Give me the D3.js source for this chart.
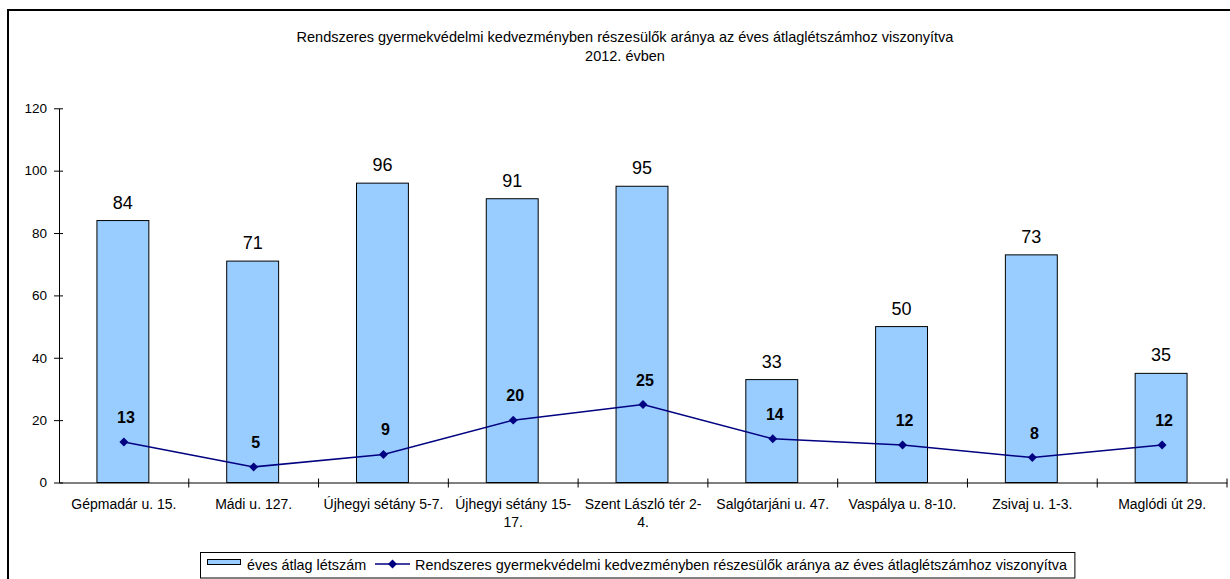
<!DOCTYPE html>
<html>
<head>
<meta charset="utf-8">
<script src="https://cdn.jsdelivr.net/npm/d3@7"></script>
<style>
  html, body { margin: 0; padding: 0; background: #fff; }
  svg { display: block; font-family: Arial, "Liberation Sans", sans-serif; }
</style>
</head>
<body>
<svg id="chart" width="1230" height="579"></svg>
<script>
const categories = ["Gépmadár u. 15.", "Mádi u. 127.", "Újhegyi sétány 5-7.", "Újhegyi sétány 15-17.", "Szent László tér 2-4.", "Salgótarjáni u. 47.", "Vaspálya u. 8-10.", "Zsivaj u. 1-3.", "Maglódi út 29."];
const tickLabels = ["Gépmadár u. 15.", "Mádi u. 127.", "Újhegyi sétány 5-7.", "Újhegyi sétány 15-\n17.", "Szent László tér 2-\n4.", "Salgótarjáni u. 47.", "Vaspálya u. 8-10.", "Zsivaj u. 1-3.", "Maglódi út 29."];
const barValues = [84, 71, 96, 91, 95, 33, 50, 73, 35];
const lineValues = [13, 5, 9, 20, 25, 14, 12, 8, 12];
const yTicks = [0, 20, 40, 60, 80, 100, 120];
const barSeriesName = "éves átlag létszám";
const lineSeriesName = "Rendszeres gyermekvédelmi kedvezményben részesülők aránya az éves átlaglétszámhoz viszonyítva";
const titleLines = ["Rendszeres gyermekvédelmi kedvezményben részesülők aránya az éves átlaglétszámhoz viszonyítva", "2012. évben"];

const svg = d3.select("#chart");

// outer chart border
svg.append("rect").attr("x", 8).attr("y", 10).attr("width", 1260).attr("height", 620)
  .attr("fill", "#fff").attr("stroke", "#000").attr("stroke-width", 2);

const x = d3.scaleBand().domain(categories).range([59, 1227]).padding(0);
const y = d3.scaleLinear().domain([0, 120]).range([482.5, 108.3]);

// title
svg.append("text").attr("x", 625).attr("y", 42).attr("text-anchor", "middle")
  .attr("font-size", 14.5).attr("fill", "#000")
  .selectAll("tspan").data(titleLines).join("tspan")
  .attr("x", 625).attr("dy", (d, i) => i === 0 ? 0 : 19).text(d => d);

// bars
const bw = x.bandwidth() * 0.4;
svg.append("g").selectAll("rect").data(categories).join("rect")
  .attr("x", (d) => x(d) + x.bandwidth() / 2 - bw / 2 - 1)
  .attr("y", (d, i) => y(barValues[i]))
  .attr("width", bw)
  .attr("height", (d, i) => y(0) - y(barValues[i]))
  .attr("fill", "#99CCFF").attr("stroke", "#000").attr("stroke-width", 1);

// bar labels
svg.append("g").selectAll("text").data(categories).join("text")
  .attr("x", (d) => x(d) + x.bandwidth() / 2 - 1)
  .attr("y", (d, i) => y(barValues[i]) - 12)
  .attr("text-anchor", "middle").attr("font-size", 18).attr("fill", "#000")
  .text((d, i) => barValues[i]);

// y axis
const yAxis = d3.axisLeft(y).tickValues(yTicks).tickSize(0).tickPadding(12);
const gy = svg.append("g").attr("transform", "translate(59,0)").call(yAxis);
gy.select(".domain").attr("stroke", "#000");
gy.selectAll(".tick text").attr("font-size", 13.5).attr("fill", "#000").attr("font-family", "Arial, 'Liberation Sans', sans-serif");
gy.selectAll(".tick").append("line").attr("x1", -5).attr("x2", 4).attr("stroke", "#000");

// x axis
const xAxis = d3.axisBottom(x).tickSize(0).tickFormat("");
const gx = svg.append("g").attr("transform", `translate(0,${y(0)})`).call(xAxis);
gx.select(".domain").attr("stroke", "#000");
gx.selectAll(".tick").remove();
const boundaries = categories.map(d => x(d)).concat([x.range()[1]]).slice(1);
gx.selectAll("line.bt").data(boundaries).join("line").attr("class", "bt")
  .attr("x1", d => d).attr("x2", d => d).attr("y1", -4).attr("y2", 5).attr("stroke", "#000");

// x labels
const xl = svg.append("g").selectAll("text").data(categories).join("text")
  .attr("x", d => x(d) + x.bandwidth() / 2)
  .attr("y", y(0) + 26)
  .attr("text-anchor", "middle").attr("font-size", 14).attr("fill", "#000");
xl.selectAll("tspan").data((d, i) => tickLabels[i].split("\n").map(t => ({t, c: d})))
  .join("tspan").attr("x", d => x(d.c) + x.bandwidth() / 2)
  .attr("dy", (d, i) => i === 0 ? 0 : 18).text(d => d.t);

// line
const cx = (d) => x(d) + x.bandwidth() / 2;
const line = d3.line().x((d, i) => cx(categories[i])).y(d => y(d));
svg.append("path").datum(lineValues).attr("d", line)
  .attr("fill", "none").attr("stroke", "#000080").attr("stroke-width", 1.5);
const diamond = d3.symbol().type(d3.symbolSquare).size(40);
svg.append("g").selectAll("path").data(lineValues).join("path")
  .attr("transform", (d, i) => `translate(${cx(categories[i])},${y(d)}) rotate(45)`)
  .attr("d", diamond).attr("fill", "#000080");

// line labels
svg.append("g").selectAll("text").data(lineValues).join("text")
  .attr("x", (d, i) => cx(categories[i]) + 2)
  .attr("y", d => y(d) - 19)
  .attr("text-anchor", "middle").attr("font-size", 16).attr("font-weight", "bold").attr("fill", "#000")
  .text(d => d);

// legend
const lg = svg.append("g");
const legText2X = 415;
const t2 = lg.append("text").attr("x", legText2X).attr("y", 570).attr("font-size", 14.4).attr("fill", "#000").text(lineSeriesName);
const t2w = t2.node().getComputedTextLength();
lg.insert("rect", ":first-child").attr("x", 200.5).attr("y", 552.5).attr("width", legText2X + t2w + 8 - 200.5).attr("height", 25.5)
  .attr("fill", "#fff").attr("stroke", "#000").attr("stroke-width", 1);
lg.append("rect").attr("x", 207.5).attr("y", 559.5).attr("width", 33).attr("height", 5)
  .attr("fill", "#99CCFF").attr("stroke", "#000").attr("stroke-width", 1);
lg.append("text").attr("x", 247).attr("y", 570).attr("font-size", 14.4).attr("fill", "#000").text(barSeriesName);
lg.append("line").attr("x1", 375).attr("x2", 410).attr("y1", 564).attr("y2", 564).attr("stroke", "#000080").attr("stroke-width", 1.5);
lg.append("path").attr("transform", "translate(392.5,564) rotate(45)").attr("d", diamond).attr("fill", "#000080");
</script>
</body>
</html>
